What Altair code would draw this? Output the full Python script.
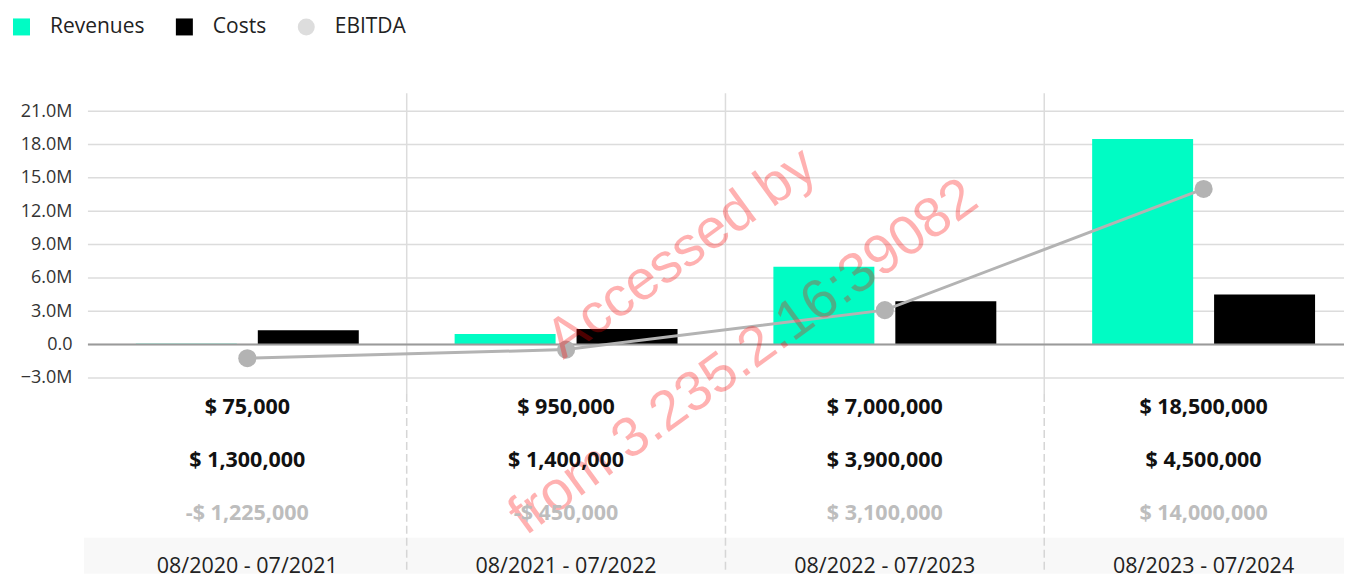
import altair as alt
import pandas as pd

# ---------------- data ----------------
periods = ["08/2020 - 07/2021", "08/2021 - 07/2022", "08/2022 - 07/2023", "08/2023 - 07/2024"]
revenues = [75000, 950000, 7000000, 18500000]
costs = [1300000, 1400000, 3900000, 4500000]
ebitda = [-1225000, -450000, 3100000, 14000000]
series = ["Revenues", "Costs", "EBITDA"]
series_colors = ["#00fcc4", "#000000", "#dddddd"]
series_shapes = ["square", "square", "circle"]
y_ticks = [-3000000, 0, 3000000, 6000000, 9000000, 12000000, 15000000, 18000000, 21000000]
watermark = ["Accessed by", "from 3.235.2.16:39082"]
row_keys = ["rev", "cost", "ebitda", "label"]

# ---------------- layout / style ----------------
FONT = "Open Sans"
W = 1257
COL = 319
H_TOP = 301
H_TAB = 180


def money(v):
    s = f"$ {abs(v):,}"
    return "-" + s if v < 0 else s


bars_df = pd.DataFrame({
    "period": periods * 2,
    "series": ["Revenues"] * len(periods) + ["Costs"] * len(periods),
    "value": revenues + costs,
})
ebitda_df = pd.DataFrame({"period": periods, "value": ebitda})
sep_df = pd.DataFrame({"period": periods[1:]})
grid_df = pd.DataFrame({"value": y_ticks})
zero_df = pd.DataFrame({"value": [0]})
legend_df = pd.DataFrame({"series": series})

table_rows = []
for i, p in enumerate(periods):
    table_rows.append({"period": p, "row": "rev", "text": money(revenues[i])})
    table_rows.append({"period": p, "row": "cost", "text": money(costs[i])})
    table_rows.append({"period": p, "row": "ebitda", "text": money(ebitda[i])})
    table_rows.append({"period": p, "row": "label", "text": p})
table_df = pd.DataFrame(table_rows)

# the last column runs slightly past the right edge, as in the reference
x_scale = alt.Scale(domain=periods, range=[0, 4 * COL], paddingInner=0, paddingOuter=0)
x_enc = alt.X("period:N", scale=x_scale, axis=None, sort=periods)
y_scale = alt.Scale(domain=[-4438000, 22618000], nice=False, zero=False)


def y_enc():
    return alt.Y(
        "value:Q", scale=y_scale, title=None,
        axis=alt.Axis(values=y_ticks, grid=False, labelOverlap=False, title=None,
                      labelExpr="datum.value === 0 ? '0.0' : format(datum.value / 1000000, '.1f') + 'M'"),
    )


def make_legend():
    return alt.Legend(
        title=None, orient="none", legendX=-77, legendY=-77, direction="horizontal",
        symbolSize=289, symbolStrokeWidth=0, symbolOpacity=1,
        labelFont=FONT, labelFontSize=21, labelColor="#222",
        labelOffset=18, columnPadding=29,
    )


color_scale = alt.Scale(domain=series, range=series_colors)

hgrid = alt.Chart(grid_df).mark_rule(color="#dcdcdc", strokeWidth=1.5).encode(y=y_enc())
seps = alt.Chart(sep_df).mark_rule(color="#dcdcdc", strokeWidth=1.5).encode(
    x=alt.X("period:N", scale=x_scale, axis=None, bandPosition=0)
)

bars = alt.Chart(bars_df).mark_bar().encode(
    x=x_enc,
    xOffset=alt.XOffset("series:N", sort=["Revenues", "Costs"],
                        scale=alt.Scale(domain=["Revenues", "Costs"], paddingInner=0.172, paddingOuter=0.393)),
    y=y_enc(),
    color=alt.Color("series:N", scale=color_scale, legend=make_legend()),
)

# legend carrier: draws nothing (filtered out), only supplies shapes for the legend
legend_layer = alt.Chart(legend_df).transform_filter("false").mark_point(filled=True).encode(
    color=alt.Color("series:N", scale=color_scale, legend=make_legend()),
    shape=alt.Shape("series:N", scale=alt.Scale(domain=series, range=series_shapes), legend=make_legend()),
)

zero = alt.Chart(zero_df).mark_rule(color="#9a9a9a", strokeWidth=2).encode(y=y_enc())

line = alt.Chart(ebitda_df).mark_line(color="#b3b3b3", strokeWidth=3).encode(x=x_enc, y=y_enc())
points = alt.Chart(ebitda_df).mark_circle(size=330, color="#b3b3b3", opacity=1).encode(x=x_enc, y=y_enc())

wm1 = alt.Chart(pd.DataFrame({"t": [watermark[0]]})).mark_text(
    font="Liberation Sans", fontSize=56, angle=324, color="#ff0000", opacity=0.3,
    align="center", baseline="middle"
).encode(text="t:N", x=alt.value(594), y=alt.value(160))
wm2 = alt.Chart(pd.DataFrame({"t": [watermark[1]]})).mark_text(
    font="Liberation Sans", fontSize=56, angle=324, color="#ff0000", opacity=0.3,
    align="center", baseline="middle"
).encode(text="t:N", x=alt.value(656), y=alt.value(264))

top = alt.layer(hgrid, seps, bars, legend_layer, zero, line, points, wm1, wm2).properties(width=W, height=H_TOP)

# ---------------- table ----------------
y_tab = alt.Y("row:N", scale=alt.Scale(type="point", domain=row_keys, padding=0.198, align=0.667), axis=None)

band = alt.Chart(pd.DataFrame({"row": ["label"]})).mark_rect(color="#f8f8f8", yOffset=-29).encode(
    y=y_tab, y2=alt.value(H_TAB), x=alt.value(-4), x2=alt.value(W)
)
dashed = alt.Chart(sep_df).mark_rule(color="#d6d6d6", strokeWidth=1.5, strokeDash=[8, 4]).encode(
    x=alt.X("period:N", scale=x_scale, axis=None, bandPosition=0)
)
txt_vals = alt.Chart(table_df).transform_filter(
    alt.FieldOneOfPredicate(field="row", oneOf=["rev", "cost"])
).mark_text(font=FONT, fontSize=21.5, fontWeight="bold", color="#111").encode(
    x=x_enc, y=y_tab, text="text:N"
)
txt_ebitda = alt.Chart(table_df).transform_filter(
    alt.FieldEqualPredicate(field="row", equal="ebitda")
).mark_text(font=FONT, fontSize=21.5, fontWeight="bold", color="#bdbdbd").encode(
    x=x_enc, y=y_tab, text="text:N"
)
txt_labels = alt.Chart(table_df).transform_filter(
    alt.FieldEqualPredicate(field="row", equal="label")
).mark_text(font=FONT, fontSize=21.5, color="#222").encode(
    x=x_enc, y=y_tab, text="text:N"
)

table = alt.layer(band, dashed, txt_vals, txt_ebitda, txt_labels).properties(width=W, height=H_TAB)

chart = alt.vconcat(top, table, spacing=0, bounds="flush").resolve_scale(
    x="independent", y="independent", color="independent", shape="independent"
).resolve_legend(color="independent", shape="independent").configure(
    padding={"left": 3, "top": 8, "right": 0, "bottom": 0}
).configure_view(stroke=None).configure_axis(
    labelFont=FONT, labelFontSize=18, labelColor="#333", domain=False, ticks=False,
    labelPadding=16
)

chart.save("out.html", embed_options={"renderer": "svg", "actions": False})
